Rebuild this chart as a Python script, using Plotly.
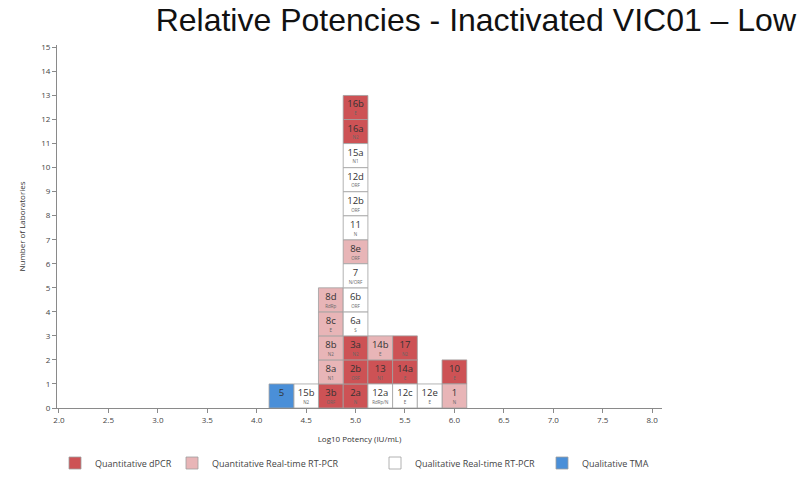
import plotly.graph_objects as go

# ---- data ----
lab_ids = ["5", "15b", "3b", "8a", "8b", "8c", "8d",
           "2a", "2b", "3a", "6a", "6b", "7", "8e", "11", "12b", "12d", "15a", "16a", "16b",
           "12a", "13", "14b", "12c", "14a", "17", "12e", "1", "10"]
genes = ["", "N2", "ORF", "N1", "N2", "E", "RdRp",
         "N", "ORF", "N2", "S", "ORF", "N/ORF", "ORF", "N", "ORF", "ORF", "N1", "N2", "E",
         "RdRp/N", "N1", "E", "E", "E", "N2", "E", "N", "E"]
methods = ["TMA", "QualRT", "dPCR", "RT", "RT", "RT", "RT",
           "dPCR", "dPCR", "dPCR", "QualRT", "QualRT", "QualRT", "RT", "QualRT", "QualRT", "QualRT", "QualRT", "dPCR", "dPCR",
           "QualRT", "dPCR", "RT", "QualRT", "dPCR", "dPCR", "QualRT", "RT", "dPCR"]
potency = [4.25, 4.5, 4.75, 4.75, 4.75, 4.75, 4.75,
           5.0, 5.0, 5.0, 5.0, 5.0, 5.0, 5.0, 5.0, 5.0, 5.0, 5.0, 5.0, 5.0,
           5.25, 5.25, 5.25, 5.5, 5.5, 5.5, 5.75, 6.0, 6.0]

method_keys = ["dPCR", "RT", "QualRT", "TMA"]
method_names = ["Quantitative dPCR", "Quantitative Real-time RT-PCR",
                "Qualitative Real-time RT-PCR", "Qualitative TMA"]
method_colors = ["#cd5255", "#e8b5b7", "#ffffff", "#4a8fd8"]

bin_width = 0.25

# stack position within each bin
counts = {}
bases = []
for p in potency:
    b = counts.get(p, 0)
    bases.append(b)
    counts[p] = b + 1

fig = go.Figure()
legend_names = ["legend", "legend2", "legend3", "legend4"]
for k, name, col, lg in zip(method_keys, method_names, method_colors, legend_names):
    idx = [i for i, m in enumerate(methods) if m == k]
    fig.add_trace(go.Bar(
        x=[potency[i] for i in idx],
        y=[1] * len(idx),
        base=[bases[i] for i in idx],
        width=bin_width,
        marker=dict(color=col, line=dict(color="#a0a0a0", width=0.8)),
        name=name,
        legend=lg,
        hoverinfo="skip",
    ))

# labels
fig.add_trace(go.Scatter(
    x=potency, y=[b + 0.6 for b in bases], mode="text", text=lab_ids,
    textfont=dict(family="Open Sans", size=9.5, color="#333333"),
    showlegend=False, hoverinfo="skip"))
fig.add_trace(go.Scatter(
    x=potency, y=[b + 0.22 for b in bases], mode="text", text=genes,
    textfont=dict(family="Open Sans", size=4.5, color="#666666"),
    showlegend=False, hoverinfo="skip"))

W, H = 811, 478
ML, MR, MT, MB = 57, 149, 45, 70
PW, PH = W - ML - MR, H - MT - MB
legend_icon_x = [75, 192, 395, 562]
legend_y_px = 463
leg_common = dict(orientation="h", xref="paper", yref="paper",
                  yanchor="middle", xanchor="left", bgcolor="rgba(0,0,0,0)",
                  font=dict(family="Open Sans", size=9, color="#444444"),
                  itemclick=False, itemdoubleclick=False)

layout_legends = {}
for lg, cx in zip(legend_names, legend_icon_x):
    layout_legends[lg] = dict(leg_common, x=(cx - 20 - ML) / PW,
                              y=(H - MB - legend_y_px) / PH)

fig.update_layout(
    width=W, height=H,
    margin=dict(l=ML, r=MR, t=MT, b=MB, autoexpand=False),
    paper_bgcolor="white", plot_bgcolor="white",
    barmode="overlay",
    title=dict(text="Relative Potencies - Inactivated VIC01 \u2013 Low",
               font=dict(family="Liberation Sans, Arial", size=32, color="#111111"),
               xref="container", yref="container",
               x=796 / W, xanchor="right", y=1 - 20 / H, yanchor="middle"),
    xaxis=dict(range=[1.98, 8.1], tick0=2, dtick=0.5, tickformat=".1f",
               showgrid=False, zeroline=False, showline=True, linecolor="#8a8a8a", linewidth=1,
               ticks="outside", ticklen=4, tickcolor="#8a8a8a",
               tickfont=dict(family="Open Sans", size=8, color="#444444"),
               title=dict(text="Log10 Potency (IU/mL)", standoff=12,
                          font=dict(family="Open Sans", size=8, color="#333333"))),
    yaxis=dict(range=[0, 15.1], dtick=1, tick0=0,
               showgrid=False, zeroline=False, showline=True, linecolor="#8a8a8a", linewidth=1,
               ticks="outside", ticklen=4, tickcolor="#8a8a8a",
               tickfont=dict(family="Open Sans", size=8, color="#444444"),
               title=dict(text="Number of Laboratories", standoff=14,
                          font=dict(family="Open Sans", size=8, color="#333333"))),
    **layout_legends,
)

fig.write_html("out.html")
